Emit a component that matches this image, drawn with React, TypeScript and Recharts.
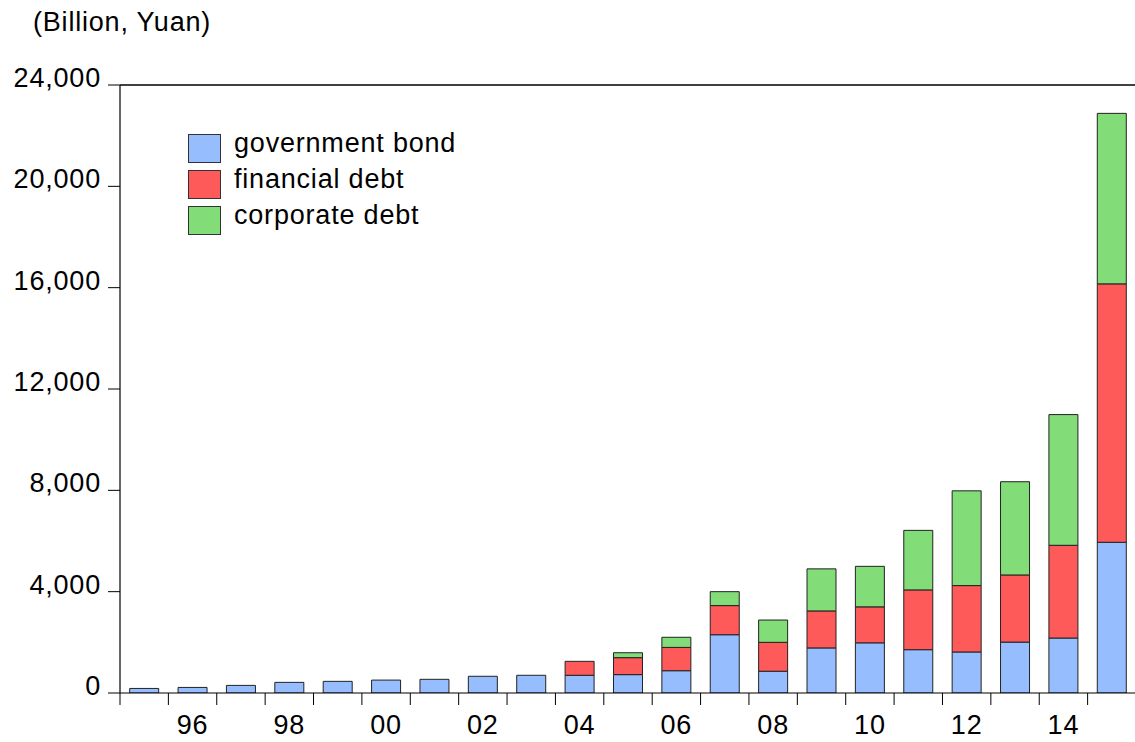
import React from 'react';
import { BarChart, Bar, XAxis, YAxis, ReferenceLine, Legend } from 'recharts';

// ---- data ----
const years = ['95', '96', '97', '98', '99', '00', '01', '02', '03', '04', '05', '06', '07', '08', '09', '10', '11', '12', '13', '14', '15'];
const governmentBond = [180, 220, 300, 420, 460, 510, 540, 660, 700, 700, 725, 880, 2300, 860, 1780, 1980, 1710, 1620, 2010, 2170, 5950];
const financialDebt = [0, 0, 0, 0, 0, 0, 0, 0, 0, 550, 670, 920, 1150, 1140, 1460, 1420, 2360, 2620, 2650, 3660, 10200];
const corporateDebt = [0, 0, 0, 0, 0, 0, 0, 0, 0, 0, 195, 400, 550, 880, 1660, 1600, 2350, 3740, 3680, 5160, 6730];
const xTickLabels = ['96', '98', '00', '02', '04', '06', '08', '10', '12', '14'];
const yTicks = [0, 4000, 8000, 12000, 16000, 20000, 24000];
const seriesNames = ['government bond', 'financial debt', 'corporate debt'];
const seriesColors = ['#96BEFF', '#FF5A5A', '#82DC78'];
const unitTitle = '(Billion, Yuan)';

const data = years.map((y, i) => ({
  year: y,
  gov: governmentBond[i],
  fin: financialDebt[i],
  corp: corporateDebt[i],
}));

// ---- layout ----
const CHART_W = 1136;
const CHART_H = 742;
const Y_AXIS_W = 120;
const X_AXIS_H = 49;
const PLOT_BOTTOM = CHART_H - X_AXIS_H;
const BAND = (CHART_W - Y_AXIS_W) / years.length;
const FONT = '"Liberation Sans", Arial, sans-serif';
const FS = 27;
const LS = 0.8;

const XTick = (props: any) => {
  const { x, payload, index } = props;
  const show = xTickLabels.includes(payload.value);
  return (
    <g>
      <line x1={x - BAND / 2} y1={PLOT_BOTTOM} x2={x - BAND / 2} y2={PLOT_BOTTOM + 12} stroke="#000" strokeWidth={1} />
      {index === years.length - 1 && (
        <line x1={x + BAND / 2} y1={PLOT_BOTTOM} x2={x + BAND / 2} y2={PLOT_BOTTOM + 12} stroke="#000" strokeWidth={1} />
      )}
      {show && (
        <text x={x} y={PLOT_BOTTOM + 41} textAnchor="middle" fill="#000" fontSize={FS} fontFamily={FONT} style={{ letterSpacing: LS }}>
          {payload.value}
        </text>
      )}
    </g>
  );
};

const YTick = (props: any) => {
  const { x, y, payload } = props;
  return (
    <text x={x} y={y + 2} textAnchor="end" fill="#000" fontSize={FS} fontFamily={FONT} style={{ letterSpacing: LS }}>
      {Number(payload.value).toLocaleString('en-US')}
    </text>
  );
};

const LegendContent = () => {
  const items = seriesNames.map((n, i) => ({ value: n, color: seriesColors[i] }));
  return (
    <div style={{ fontFamily: FONT, fontSize: FS, letterSpacing: LS }}>
      {items.map((p, i) => (
        <div key={i} style={{ position: 'relative', height: 36 }}>
          <div
            style={{
              position: 'absolute',
              left: 0,
              top: 0,
              width: 31,
              height: 27,
              background: p.color,
              border: '1px solid #333',
            }}
          />
          <div style={{ position: 'absolute', left: 46, top: -4, lineHeight: '27px', whiteSpace: 'nowrap', color: '#000' }}>
            {p.value}
          </div>
        </div>
      ))}
    </div>
  );
};

export default function App() {
  return (
    <div style={{ position: 'absolute', left: 0, top: 0, width: 1135, height: 742, overflow: 'hidden', background: '#fff' }}>
      <div style={{ position: 'absolute', left: 33, top: 9, fontFamily: FONT, fontSize: FS, letterSpacing: LS, lineHeight: '27px', color: '#000', whiteSpace: 'nowrap' }}>
        {unitTitle}
      </div>
      <BarChart
        width={CHART_W}
        height={CHART_H}
        data={data}
        margin={{ top: 85, right: 0, left: 0, bottom: 0 }}
        barCategoryGap="20%"
      >
        <XAxis
          dataKey="year"
          interval={0}
          tick={XTick}
          tickLine={false}
          axisLine={{ stroke: '#000', strokeWidth: 1.2 }}
          height={X_AXIS_H}
        />
        <YAxis
          domain={[0, 24000]}
          ticks={yTicks}
          width={Y_AXIS_W}
          tick={YTick}
          tickSize={12}
          tickMargin={7}
          tickLine={{ stroke: '#000' }}
          axisLine={{ stroke: '#000', strokeWidth: 1.2 }}
          allowDataOverflow
        />
        <ReferenceLine y={24000} stroke="#000" strokeWidth={1.5} />
        <Legend
          layout="vertical"
          align="center"
          verticalAlign="middle"
          content={LegendContent}
          wrapperStyle={{ position: 'absolute', left: 188, top: 134, width: 320, height: 110 }}
        />
        <Bar dataKey="gov" name={seriesNames[0]} stackId="a" fill={seriesColors[0]} stroke="#222" strokeWidth={1} isAnimationActive={false} />
        <Bar dataKey="fin" name={seriesNames[1]} stackId="a" fill={seriesColors[1]} stroke="#222" strokeWidth={1} isAnimationActive={false} />
        <Bar dataKey="corp" name={seriesNames[2]} stackId="a" fill={seriesColors[2]} stroke="#222" strokeWidth={1} isAnimationActive={false} />
      </BarChart>
    </div>
  );
}
